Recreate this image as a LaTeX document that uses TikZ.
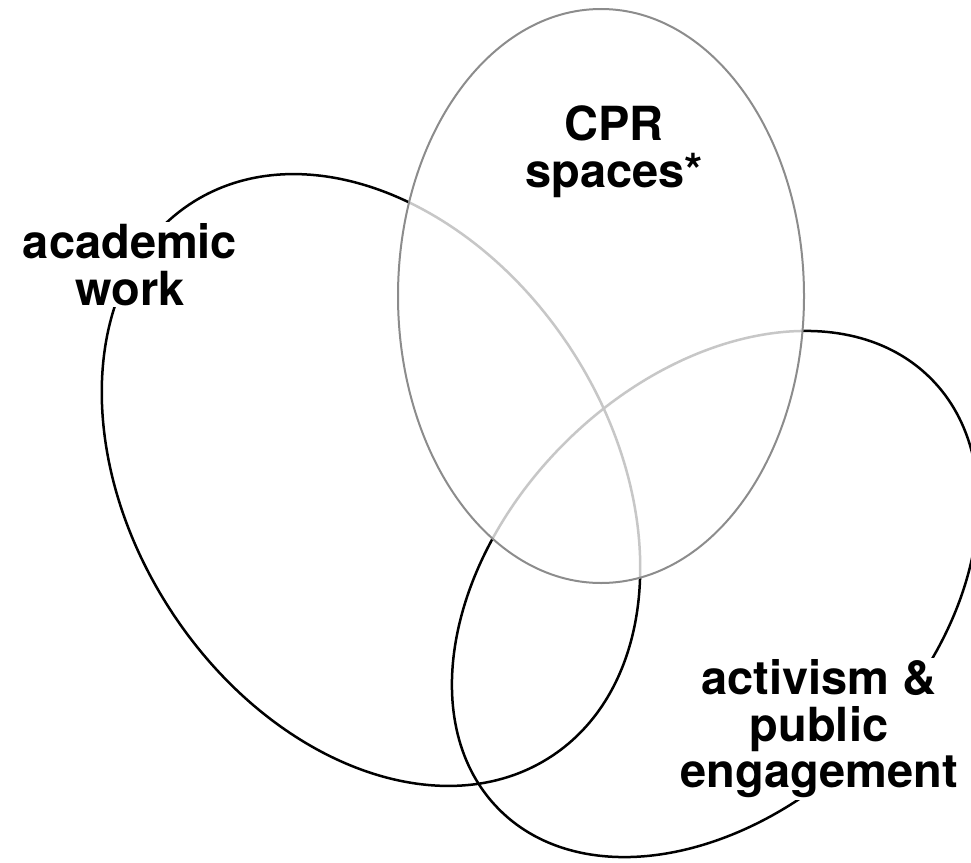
\documentclass[tikz,border=0pt]{standalone}
\usepackage{fontspec}
\setmainfont{TeX Gyre Heros}
\tikzset{
  ring/.style={line width=2.5pt, draw=black},
  cprring/.style={line width=2pt, draw=black!45, fill=white, fill opacity=0.78},
  lab/.style={fill=white, inner sep=2pt, align=center,
              font=\fontsize{47}{46.5}\selectfont\bfseries}
}
\begin{document}
\begin{tikzpicture}[x=1pt,y=-1pt]
\useasboundingbox (0,0) rectangle (971,862);
% the two black sets
\draw[ring, rotate around={-57:(371,480)}] (371,480) ellipse [x radius=330, y radius=239];
\draw[ring, rotate around={45:(715,594)}] (715,594) ellipse [x radius=305, y radius=213];
% CPR set on top, lightens what lies under it
\draw[cprring] (601,296) ellipse [x radius=203, y radius=287];
\node[lab] (cpr) at (614,151.5) {CPR\\spaces*};
\node[lab] (acad) at (130,264.5) {academic\\work};
\node[lab] (activ) at (819,729) {activism \&\\public\\engagement};
\end{tikzpicture}
\end{document}
